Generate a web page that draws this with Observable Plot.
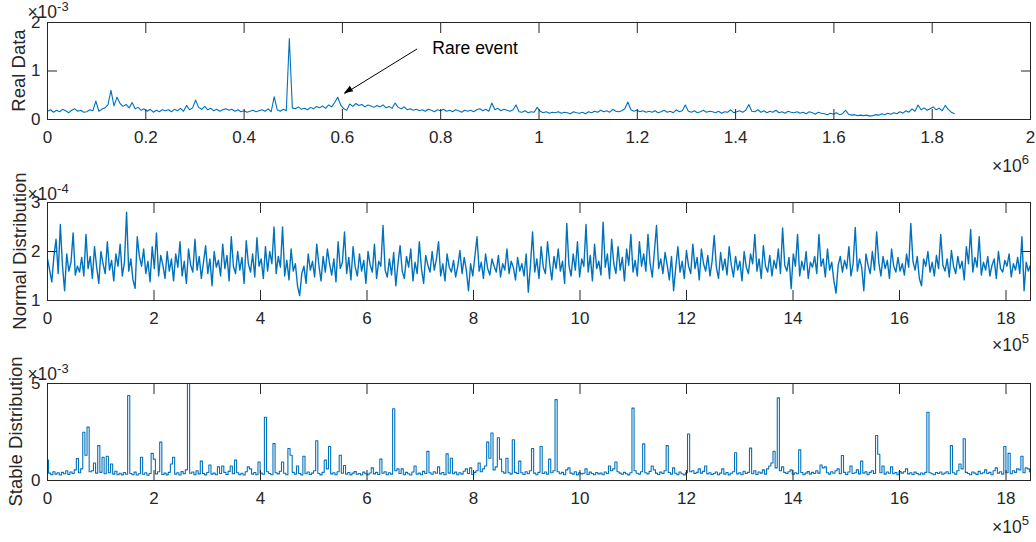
<!DOCTYPE html>
<html><head><meta charset="utf-8">
<script src="https://cdn.jsdelivr.net/npm/d3@7"></script>
<script src="https://cdn.jsdelivr.net/npm/@observablehq/plot@0.6"></script>
<style>
html,body{margin:0;padding:0;background:#fff;}
#chart{position:relative;width:1036px;height:542px;overflow:hidden;background:#fff;}
#chart svg{position:absolute;left:0;}
</style></head><body><div id="chart"></div>
<script>
// ---------- DATA ----------
// Real data: one value every 6150 samples, values in units of 1e-3
const realStep = 6150;
const realValues = [
0.17,0.2,0.15,0.19,0.16,0.21,0.18,0.14,0.19,0.22,
0.17,0.19,0.15,0.16,0.2,0.18,0.38,0.17,0.21,0.24,
0.3,0.6,0.28,0.46,0.33,0.27,0.31,0.24,0.35,0.22,
0.25,0.19,0.22,0.17,0.21,0.15,0.19,0.16,0.2,0.18,
0.2,0.16,0.21,0.18,0.23,0.17,0.29,0.2,0.24,0.4,
0.25,0.21,0.27,0.2,0.23,0.18,0.21,0.17,0.2,0.22,
0.19,0.21,0.17,0.2,0.16,0.18,0.15,0.17,0.19,0.16,
0.18,0.2,0.17,0.22,0.16,0.47,0.2,0.17,0.21,0.18,
1.67,0.24,0.22,0.26,0.21,0.23,0.2,0.25,0.22,0.27,
0.24,0.28,0.23,0.3,0.26,0.35,0.46,0.3,0.22,0.19,
0.32,0.27,0.33,0.29,0.31,0.26,0.3,0.28,0.25,0.29,
0.26,0.3,0.24,0.27,0.23,0.34,0.25,0.22,0.26,0.2,
0.22,0.19,0.21,0.18,0.2,0.17,0.21,0.19,0.16,0.2,
0.18,0.21,0.17,0.19,0.16,0.2,0.18,0.15,0.19,0.17,
0.19,0.16,0.2,0.22,0.18,0.21,0.17,0.34,0.2,0.23,
0.18,0.21,0.19,0.17,0.2,0.3,0.16,0.15,0.18,0.14,
0.16,0.15,0.25,0.17,0.14,0.16,0.13,0.15,0.14,0.16,
0.13,0.15,0.14,0.12,0.16,0.14,0.13,0.15,0.12,0.16,
0.14,0.17,0.15,0.19,0.16,0.18,0.15,0.21,0.17,0.16,
0.18,0.22,0.36,0.2,0.17,0.19,0.16,0.18,0.15,0.17,
0.15,0.18,0.14,0.16,0.19,0.15,0.17,0.14,0.2,0.16,
0.18,0.3,0.17,0.15,0.18,0.14,0.16,0.19,0.15,0.17,
0.16,0.14,0.17,0.13,0.16,0.15,0.2,0.14,0.16,0.18,
0.15,0.19,0.31,0.17,0.16,0.2,0.15,0.18,0.14,0.17,
0.15,0.19,0.14,0.16,0.13,0.17,0.15,0.14,0.16,0.13,
0.15,0.12,0.16,0.14,0.11,0.15,0.13,0.12,0.1,0.13,
0.11,0.14,0.1,0.12,0.19,0.11,0.09,0.1,0.08,0.09,
0.08,0.09,0.07,0.08,0.1,0.09,0.12,0.1,0.13,0.11,
0.14,0.12,0.16,0.13,0.18,0.15,0.22,0.17,0.3,0.2,
0.24,0.19,0.22,0.26,0.2,0.23,0.18,0.29,0.21,0.15,0.12
];

// Normal distribution: one value every 4013 samples, values in units of 1e-4
const normalStep = 4013;
const normalValues = [
1.85,1.62,1.38,1.9,2.25,1.55,2.55,1.72,1.2,1.95,1.6,1.78,2.38,1.52,1.7,1.58,1.88,1.5,2.35,1.65,
1.9,1.45,2.1,1.68,1.35,2.0,1.75,1.55,2.2,1.62,1.82,1.4,1.95,1.7,2.15,1.5,1.78,2.8,1.6,1.85,
1.42,1.25,2.3,1.9,1.7,2.05,1.55,1.8,1.38,2.1,1.65,2.38,1.5,1.92,1.72,1.45,2.0,1.6,1.85,1.4,
1.95,1.68,2.2,1.5,1.8,1.35,2.05,1.72,1.58,2.25,1.62,1.9,1.45,1.78,2.12,1.55,1.85,1.3,2.0,1.68,
1.82,1.5,2.15,1.65,1.92,1.4,2.3,1.7,1.55,2.0,1.62,1.88,1.35,2.22,1.75,1.58,1.95,1.48,2.28,1.7,
1.85,1.45,2.1,1.6,2.0,1.75,2.5,1.55,1.9,1.68,2.5,1.5,1.82,1.42,2.05,1.6,1.75,1.3,1.1,1.55,
1.7,1.35,1.95,1.62,1.8,1.48,2.15,1.72,1.4,1.9,1.58,2.05,1.75,1.52,1.85,1.38,2.2,1.65,1.78,2.4,
1.55,1.88,1.42,2.1,1.68,1.5,1.95,1.6,1.82,1.35,2.0,1.72,1.58,2.15,1.45,1.8,1.7,2.53,1.62,1.48,
1.85,1.52,1.98,1.3,1.75,2.12,1.6,1.45,1.9,1.68,2.05,1.4,1.78,1.55,2.2,1.65,1.35,1.92,1.72,1.58,
2.0,1.62,1.85,2.2,1.5,1.75,1.4,1.95,1.68,1.58,1.82,1.48,1.7,2.02,1.55,1.88,1.62,1.2,1.75,1.5,
1.9,2.3,1.6,1.78,1.45,1.95,1.65,1.52,1.85,1.7,1.58,1.92,1.48,1.75,1.62,2.05,1.55,1.8,1.68,1.42,
1.88,1.6,1.75,1.5,1.95,1.17,1.72,2.4,1.58,1.85,1.45,2.1,1.68,1.55,2.2,1.75,1.42,1.9,1.65,2.05,
1.6,1.8,1.35,2.57,1.72,1.5,1.95,1.62,2.2,1.48,1.85,1.7,2.55,1.58,1.92,1.4,2.15,1.65,1.8,1.52,
2.6,1.68,1.95,1.45,2.25,1.75,1.55,2.1,1.62,1.88,1.4,2.05,1.72,2.35,1.58,1.82,1.5,2.2,1.7,1.95,
1.6,2.35,1.75,1.48,2.0,2.53,1.65,1.85,1.55,1.98,1.72,1.42,1.9,1.2,1.68,2.1,1.58,1.8,1.45,2.02,
1.7,1.55,2.15,1.65,1.88,1.42,2.05,1.75,1.6,1.92,1.5,1.8,2.33,1.68,1.45,1.98,1.62,1.85,1.52,2.1,
1.72,1.48,1.9,1.62,1.8,1.4,2.0,1.68,1.55,1.95,1.75,2.35,1.6,1.85,1.45,2.12,1.7,1.58,1.92,1.5,
1.82,1.65,2.05,1.55,2.48,1.72,1.6,1.88,1.24,1.95,1.7,2.35,1.5,1.8,1.62,2.0,1.45,1.78,1.68,1.9,
1.55,2.35,1.7,1.85,1.48,2.05,1.62,1.78,1.4,1.15,1.72,1.9,1.58,1.82,1.65,2.1,1.5,1.75,2.49,1.6,
1.85,1.68,1.2,1.95,1.72,1.55,2.0,1.62,2.4,1.78,1.5,1.9,1.65,1.82,1.45,2.05,1.7,1.58,1.88,1.6,
1.75,1.52,1.95,1.68,2.57,1.8,1.62,1.9,1.45,1.3,1.85,1.7,2.0,1.58,1.78,1.5,1.92,1.65,2.35,1.72,
1.6,1.85,1.48,2.02,1.7,1.55,1.9,1.65,1.8,1.42,2.1,1.75,2.45,1.58,1.88,1.68,2.3,1.52,1.78,1.62,
1.9,1.5,1.72,1.85,1.45,2.0,1.65,1.58,1.82,1.7,1.95,1.48,1.75,1.62,1.88,1.55,2.3,1.2,1.78,1.6,1.72
];

// Stable distribution: one value every 4013 samples, values in units of 1e-3
const stableStep = 4013;
const stableValues = [
1.05,0.38,0.3,0.45,0.33,0.4,0.28,0.42,0.35,0.5,0.31,0.44,0.36,0.55,1.13,0.4,0.6,2.49,1.3,2.75,
0.45,0.5,0.9,0.38,1.8,0.42,1.2,0.35,1.25,0.4,0.85,0.33,0.48,0.3,0.37,0.29,0.41,0.32,4.38,0.36,
0.3,0.43,0.28,0.35,1.2,0.32,0.4,0.27,0.36,1.4,1.1,0.34,0.45,1.98,0.31,0.38,0.29,0.42,0.85,1.2,
0.33,0.4,0.28,0.46,0.35,0.55,5.0,0.37,0.44,0.3,0.5,0.34,1.0,0.36,0.29,0.41,0.8,0.33,0.38,0.3,
0.7,0.36,0.75,0.42,0.31,0.47,0.75,0.35,1.05,0.4,0.3,0.37,0.28,0.45,0.7,0.6,0.33,0.41,0.3,0.95,
0.38,0.32,3.26,0.45,0.36,0.3,1.9,0.4,0.34,0.48,0.95,0.37,0.3,1.65,1.3,0.42,0.33,0.75,0.36,0.29,
1.25,0.35,0.44,0.31,0.38,0.5,2.05,0.36,0.29,0.42,1.05,0.6,1.75,0.34,0.4,0.3,0.45,1.3,0.37,0.77,
0.33,0.41,0.29,0.38,0.46,0.32,0.36,0.28,0.43,0.35,0.3,0.39,0.65,0.34,0.42,0.31,1.1,0.37,0.45,0.3,
0.4,0.33,3.7,0.5,0.6,0.36,0.6,0.3,0.42,0.35,0.28,0.44,0.75,0.33,0.38,0.3,0.47,0.36,1.5,0.4,
0.32,0.45,0.37,0.7,0.34,0.41,0.3,1.37,0.38,1.15,0.35,0.43,0.3,0.4,0.33,0.48,0.6,0.36,0.65,0.31,
0.42,0.5,0.9,0.45,0.6,0.75,1.98,1.15,2.45,0.55,0.7,2.2,1.1,0.45,0.38,1.15,0.4,0.33,2.1,0.42,
0.36,1.0,0.4,0.31,0.45,0.35,0.5,1.65,0.38,0.3,0.42,1.75,0.36,0.44,0.33,1.1,0.4,0.5,4.17,0.45,
0.35,0.42,0.3,0.55,0.65,0.38,0.33,0.45,0.29,0.4,0.34,0.37,0.6,0.31,0.43,0.36,0.3,0.41,0.34,0.38,
0.3,0.44,0.36,0.75,0.5,0.6,0.95,0.45,0.38,0.32,0.42,0.35,0.29,0.4,3.73,0.5,0.37,0.33,0.45,1.89,
0.4,0.34,0.47,0.75,0.55,0.38,0.31,0.43,0.36,0.5,1.8,0.41,0.33,0.65,0.37,0.3,0.44,0.35,0.29,0.4,
2.4,0.45,0.5,0.36,0.42,0.6,0.38,0.47,0.75,0.34,0.4,0.31,0.36,0.44,0.3,0.38,0.6,0.33,0.41,0.29,
0.37,0.45,1.43,0.34,0.4,0.3,0.48,0.36,0.42,1.67,0.35,0.5,0.31,0.44,0.38,0.55,0.33,0.6,0.75,0.9,
1.51,0.65,4.26,0.5,0.7,0.42,0.36,0.45,0.55,0.32,0.4,0.35,1.58,0.41,0.3,0.38,0.46,0.33,0.42,0.36,
0.5,0.38,0.8,0.65,0.7,0.4,0.33,0.45,0.37,0.5,0.6,0.35,1.29,0.42,0.31,0.44,0.75,0.36,0.4,0.55,
0.34,1.0,0.38,0.45,0.3,0.42,0.5,0.36,2.32,1.35,0.4,0.75,0.33,0.44,0.37,0.7,0.35,0.41,0.3,0.46,
0.38,0.45,0.6,0.34,0.4,0.31,0.43,0.36,0.3,0.39,0.33,0.42,3.52,0.4,0.35,0.3,0.41,0.36,0.44,0.32,
0.38,0.45,0.35,1.8,0.4,0.33,0.5,0.85,0.6,2.15,0.42,0.36,0.3,0.44,0.38,0.31,0.47,0.35,0.4,0.55,
0.36,0.42,0.3,0.5,0.65,0.38,0.45,0.33,1.75,0.4,1.4,0.35,0.5,0.42,0.6,0.55,1.25,0.4,0.65,0.6,0.45
];

// Axis ticks (x in units of 1e6 for real data, 1e5 for simulated)
const realXTicks = [0,0.2,0.4,0.6,0.8,1,1.2,1.4,1.6,1.8,2];
const simXTicks = [0,2,4,6,8,10,12,14,16,18];
const realYTicks = [0,1,2];
const normalYTicks = [1,2,3];
const stableYTicks = [0,5];
const yLabels = ["Real Data","Normal Distribution","Stable Distribution"];
const yExponents = ["-3","-4","-3"];
const xExponents = ["6","5","5"];
// Annotation (data coordinates of panel 1)
const annotation = [{label:"Rare event", tx:0.783, ty:1.47, x1:0.752, y1:1.455, x2:0.604, y2:0.53}];

// ---------- DRAW ----------
const ink = "#262626";
const blue = "#0072BD";
const font = "'Liberation Sans', Arial, Helvetica, sans-serif";
const chart = document.getElementById("chart");

function panel(cfg){
  const data = cfg.values.map((v,i)=>({x: i*cfg.step/cfg.unit, y: v}));
  const p = Plot.plot({
    width:1036, height:cfg.height,
    marginLeft:47, marginRight:6, marginTop:cfg.mt, marginBottom:cfg.mb,
    style:{fontFamily:font, fontSize:"17px", color:ink, background:"transparent", overflow:"visible"},
    x:{domain:cfg.xDomain},
    y:{domain:cfg.yDomain},
    marks:[
      Plot.line(data,{x:"x",y:"y",stroke:blue,strokeWidth:cfg.sw||1,curve:cfg.curve||"linear",clip:true}),
      Plot.frame({stroke:ink,strokeWidth:1}),
      Plot.axisX(cfg.xTicks,{anchor:"bottom",tickSize:10,dy:-10,tickFormat:()=>"",label:null}),
      Plot.axisX(cfg.xTicks,{anchor:"top",tickSize:10,dy:10,tickFormat:()=>"",label:null}),
      Plot.axisX(cfg.xTicks,{anchor:"bottom",tickSize:0,tickPadding:11,tickFormat:d=>String(d),label:null}),
      Plot.axisY(cfg.yTicks,{anchor:"left",tickSize:10,dx:10,tickFormat:()=>"",label:null}),
      Plot.axisY(cfg.yTicks,{anchor:"right",tickSize:10,dx:-10,tickFormat:()=>"",label:null}),
      Plot.axisY(cfg.yTicks,{anchor:"left",tickSize:0,tickPadding:7,tickFormat:d=>String(d),label:null}),
      ...(cfg.extra||[])
    ]
  });
  p.style.top = cfg.top + "px";
  chart.appendChild(p);
  const s = d3.select(p);
  // y exponent
  const ye = s.append("text").attr("x",48).attr("y",cfg.yExpBase).attr("fill",ink)
    .style("font-family",font).style("font-size","17.5px");
  ye.append("tspan").text("\u00d710");
  ye.append("tspan").attr("dy",-7).style("font-size","13px").text(cfg.yExp);
  // x exponent
  const xe = s.append("text").attr("x",1029).attr("y",cfg.xExpBase).attr("fill",ink)
    .attr("text-anchor","end").style("font-family",font).style("font-size","17.5px");
  xe.append("tspan").text("\u00d710");
  xe.append("tspan").attr("dy",-8).style("font-size","13px").text(cfg.xExp);
  // y label
  s.append("text").attr("transform",`translate(${cfg.ylx},${cfg.yly}) rotate(-90)`)
    .attr("text-anchor","middle").attr("fill",ink)
    .style("font-family",font).style("font-size","18.5px").text(cfg.ylabel);
  return p;
}

const p1 = panel({values:realValues, step:realStep, unit:1e6, xDomain:[0,2], xTicks:realXTicks,
  yDomain:[0,2], yTicks:realYTicks, top:0, height:176, mt:22, mb:57, sw:1.1,
  yExpBase:18, xExpBase:172, yExp:yExponents[0], xExp:xExponents[0], ylabel:yLabels[0], ylx:25, yly:70.5,
  extra:[
    Plot.link(annotation,{x1:"x1",y1:"y1",x2:"x2",y2:"y2",stroke:"#000",strokeWidth:1}),
    Plot.text(annotation,{x:"tx",y:"ty",text:"label",textAnchor:"start",fill:"#000",fontSize:17.5})
  ]});
// filled arrow head, positioned with panel-1 scales
{
  const sx = p1.scale("x"), sy = p1.scale("y");
  const a = annotation[0];
  const tx = sx.apply(a.x2), ty = sy.apply(a.y2);
  const fx = sx.apply(a.x1), fy = sy.apply(a.y1);
  const L = Math.hypot(tx-fx, ty-fy), ux = (tx-fx)/L, uy = (ty-fy)/L;
  const hl = 9, hw = 3.2;
  const bx = tx - hl*ux, by = ty - hl*uy;
  const pts = [[tx,ty],[bx - hw*uy, by + hw*ux],[bx + hw*uy, by - hw*ux]];
  d3.select(p1).append("polygon").attr("points", pts.map(q=>q.join(",")).join(" ")).attr("fill","#000");
}

panel({values:normalValues, step:normalStep, unit:1e5, xDomain:[0,18.46], xTicks:simXTicks,
  yDomain:[1,3], yTicks:normalYTicks, top:176, height:180, mt:26, mb:56, curve:"linear", sw:1.4,
  yExpBase:24, xExpBase:175, yExp:yExponents[1], xExp:xExponents[1], ylabel:yLabels[1], ylx:26, yly:75});

panel({values:stableValues, step:stableStep, unit:1e5, xDomain:[0,18.46], xTicks:simXTicks,
  yDomain:[0,5], yTicks:stableYTicks, top:356, height:186, mt:27, mb:62, curve:"step", sw:1.1,
  yExpBase:24, xExpBase:177, yExp:yExponents[2], xExp:xExponents[2], ylabel:yLabels[2], ylx:22, yly:75.5});
</script></body></html>
